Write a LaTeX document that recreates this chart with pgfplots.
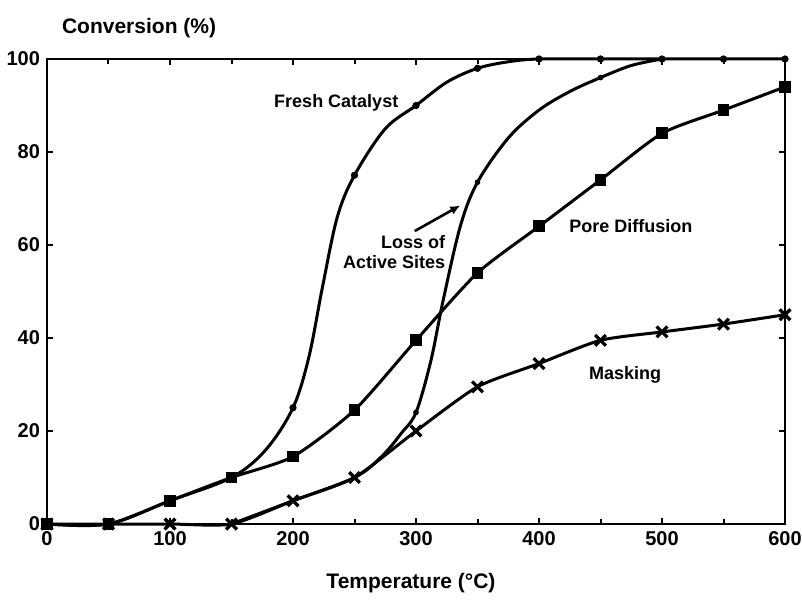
\documentclass[border=0pt]{standalone}
\usepackage{fontspec}
\setmainfont{Liberation Sans}
\usepackage{pgfplots}
\pgfplotsset{compat=1.18}
\usetikzlibrary{arrows.meta}
\begin{document}
\begin{tikzpicture}
\path[use as bounding box] (-23.5pt,-40.5pt) rectangle (377.5pt,262pt);
\begin{axis}[
 scale only axis, width=369pt, height=232.5pt,
 xmin=0,xmax=600,ymin=0,ymax=100,
 xtick={0,100,...,600}, ytick={0,20,...,100},
 minor xtick={50,150,...,550},
 tick align=inside, major tick length=3pt, minor tick length=2.5pt,
 axis line style={line width=1.4pt},
 every tick/.style={line width=1pt, black},
 tick label style={font=\bfseries},
 /pgf/number format/assume math mode=true,
 clip=false,
]
% Fresh catalyst curve
\addplot[black, line width=1.5pt, smooth, tension=0.55] coordinates {
 (0,0) (50,0) (100,5) (150,10) (178,16) (200,25) (213,36) (224,51) (236,66) (250,75) (275,85) (300,90) (325,95) (350,98) (375,99.4) (400,100) (450,100) (500,100) (550,100) (600,100)};
\addplot[only marks, mark=*, mark size=1.6pt, black] coordinates {
 (100,5) (150,10) (200,25) (250,75) (300,90) (350,98) (400,100) (450,100) (500,100) (550,100) (600,100)};
% Loss of active sites
\addplot[black, line width=1.5pt, smooth, tension=0.55] coordinates {
 (150,0) (200,5) (250,10) (272,14.5) (288,19.5) (300,24) (312,35) (322,48) (336,64) (350,73.5) (375,83) (400,89) (425,93) (450,96) (475,98.6) (500,100)};
\addplot[only marks, mark=*, mark size=1.2pt, black] coordinates {
 (300,24) (350,73.5) (450,96)};
% Pore diffusion
\addplot[black, line width=1.5pt, smooth, tension=0.4, mark=square*, mark size=2.2pt] coordinates {
 (0,0) (50,0) (100,5) (150,10) (200,14.5) (250,24.5) (300,39.5) (350,54) (400,64) (450,74) (500,84) (550,89) (600,94)};
% Masking
\addplot[black, line width=1.5pt, smooth, tension=0.4, mark=x, mark size=3.8pt, mark options={line width=1.6pt}] coordinates {
 (0,0) (50,0) (100,0) (150,0) (200,5) (250,10) (300,20) (350,29.5) (400,34.5) (450,39.5) (500,41.3) (550,43) (600,45)};
% labels
\node[anchor=west, font=\bfseries\fontsize{9}{10.8}\selectfont] at (axis cs:179,90.5) {Fresh Catalyst};
\node[anchor=east, align=right, inner sep=0pt, font=\bfseries\fontsize{9}{10.2}\selectfont] at (axis cs:324,58.5) {Loss of\\Active Sites};
\node[anchor=west, font=\bfseries\fontsize{9}{10.8}\selectfont] at (axis cs:419,64) {Pore Diffusion};
\node[anchor=west, font=\bfseries\fontsize{9}{10.8}\selectfont] at (axis cs:435,32) {Masking};
\draw[line width=1.3pt, -{Latex[length=5pt,width=4.5pt]}] (axis cs:299,63) -- (axis cs:336,68.5);
\node[anchor=west, font=\bfseries\fontsize{10.5}{12}\selectfont] at ([xshift=4pt,yshift=15.5pt]rel axis cs:0,1) {Conversion (\%)};
\node[anchor=center, font=\bfseries\fontsize{10.5}{12}\selectfont] at ([xshift=-2.5pt,yshift=-29.5pt]rel axis cs:0.5,0) {Temperature (°C)};
\end{axis}
\end{tikzpicture}
\end{document}
